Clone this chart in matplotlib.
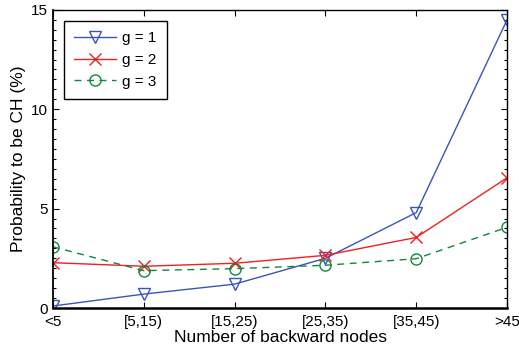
import numpy as np
import matplotlib
matplotlib.use('Agg')
import matplotlib.pyplot as plt
from matplotlib.ticker import MultipleLocator

plt.rcParams['font.family'] = ['Liberation Sans', 'DejaVu Sans']

# data
categories = ['<5', '[5,15)', '[15,25)', '[25,35)', '[35,45)', '>45']
g1 = [0.1, 0.7, 1.2, 2.5, 4.8, 14.5]
g2 = [2.28, 2.1, 2.25, 2.65, 3.55, 6.55]
g3 = [3.08, 1.88, 1.98, 2.15, 2.48, 4.06]

x = np.arange(1, len(categories) + 1)

fig = plt.figure(figsize=(5.19, 3.52), dpi=100)
ax = fig.add_axes([0.102, 0.125, 0.875, 0.847])

ax.plot(x, g1, color='#3856b6', marker='v', markersize=9, markerfacecolor='none',
        markeredgewidth=1.0, linewidth=1.0, label='g = 1')
ax.plot(x, g2, color='#f02020', marker='x', markersize=8,
        markeredgewidth=1.0, linewidth=1.0, label='g = 2')
ax.plot(x, g3, color='#11883a', marker='o', markersize=8, markerfacecolor='none',
        markeredgewidth=1.0, linewidth=1.0, linestyle=(0, (5, 4)), label='g = 3')

ax.set_xlim(1, 6)
ax.set_ylim(0, 15)
ax.set_xticks(x)
ax.set_xticklabels(categories)
ax.set_yticks([0, 5, 10, 15])

ax.tick_params(direction='in', top=True, right=True, labelsize=11, length=4, width=0.8)
ax.tick_params(axis='x', pad=5)
ax.yaxis.set_minor_locator(MultipleLocator(0.5))
ax.tick_params(which='minor', direction='in', left=True, right=True, length=2.5, width=0.8)
for s in ax.spines.values():
    s.set_linewidth(1.0)
ax.spines['bottom'].set_linewidth(1.8)
ax.spines['left'].set_linewidth(1.3)

ax.set_xlabel('Number of backward nodes', fontsize=12.5, labelpad=1)
ax.set_ylabel('Probability to be CH (%)', fontsize=12.5, labelpad=4)

leg = ax.legend(loc='upper left', fontsize=11, fancybox=False, framealpha=1,
                edgecolor='black', borderaxespad=0.7, handlelength=2.7,
                handletextpad=0.4, borderpad=0.7, labelspacing=0.5)
leg.get_frame().set_linewidth(1.0)

fig.savefig('out.png', dpi=100)
